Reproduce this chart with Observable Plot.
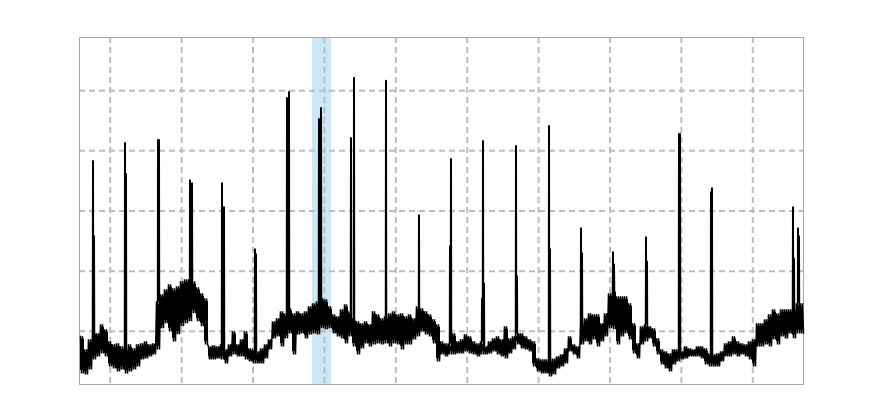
<!DOCTYPE html>
<html>
<head>
<meta charset="utf-8">
<script src="https://cdn.jsdelivr.net/npm/d3@7"></script>
<script src="https://cdn.jsdelivr.net/npm/@observablehq/plot@0.6"></script>
<style>
  html, body { margin: 0; padding: 0; background: #fff; }
  #chart { width: 880px; height: 420px; }
</style>
</head>
<body>
<div id="chart"></div>
<script>
// Sampling grid of the noisy baseline: first sample and spacing (x units)
const sampleStart = 1;
const sampleStep = 4;
// Upper and lower envelope of the baseline signal, one pair per sample window
const baseHigh = [
  -5,-18,-8,0,-2,7,2,-10,-13,-12,-15,-17,-13,-17,-13,-12,-10,-13,-12,30,
  37,42,47,43,45,50,52,52,50,44,38,33,-15,-14,-15,-13,-18,-13,0,-13,
  -8,0,-17,-18,-20,-17,-13,-8,10,13,20,18,23,18,20,18,20,25,28,30,
  33,32,25,17,15,22,27,20,13,10,8,10,7,20,17,13,15,18,20,17,
  18,15,17,13,25,23,20,17,12,7,-10,-12,-12,-2,-10,-8,-3,-5,-10,-12,
  -10,-15,-10,-7,-5,-8,5,-7,-5,-2,-2,-5,-8,-10,-27,-28,-28,-28,-27,-25,
  -23,-17,-5,-13,-15,8,13,18,17,17,8,18,38,42,35,35,35,28,8,-12,
  5,7,5,3,-7,-18,-20,-22,-18,-18,-20,-15,-17,-18,-15,-15,-17,-22,-23,-22,
  -20,-12,-10,-5,-10,-12,-13,-10,-8,8,8,12,17,22,18,22,22,22,23,28,
  28
];
const baseLow = [
  -42,-43,-38,-28,-25,-22,-25,-35,-37,-40,-38,-42,-40,-38,-35,-28,-27,-25,-23,-18,
  3,8,0,-10,-3,5,8,10,18,10,5,-13,-28,-28,-27,-28,-32,-25,-23,-25,
  -25,-28,-30,-32,-32,-32,-27,-18,-7,-5,-15,-7,-2,-23,-3,-2,-7,-3,-2,-3,
  3,2,3,-2,-5,-7,-12,-5,-15,-23,-17,-12,-15,-13,-12,-13,-12,-15,-12,-13,
  -18,-13,-13,-8,-5,0,-3,-5,-12,-30,-23,-25,-23,-23,-22,-22,-20,-22,-23,-25,
  -23,-23,-22,-20,-23,-25,-27,-22,-18,-13,-17,-18,-20,-35,-40,-42,-42,-45,-43,-37,
  -35,-32,-20,-23,-27,-13,-10,-13,-8,-15,-10,-5,3,2,-13,-5,-2,-8,-22,-27,
  -13,-10,-7,-15,-23,-33,-37,-40,-33,-30,-28,-27,-25,-25,-25,-27,-33,-35,-35,-35,
  -30,-25,-25,-23,-25,-23,-25,-28,-35,-15,-15,-13,-15,-8,-13,-5,-7,-2,-7,-2,
  -2
];
// Spikes: position and peak value
const spikeX   = [13,14,45,46,78,79,110,112,142,144,175,176,207,209,239,241,271,274,306,339,370,371,402,403,404,436,437,469,470,501,502,533,534,566,567,599,600,631,632,713,714,718,719];
const spikeTop = [170,95,188,157,191,191,151,148,148,124,82,77,233,239,212,223,193,253,250,116,85,172,33,190,48,185,55,205,82,103,78,79,67,94,70,197,197,139,143,124,73,103,95];
// Highlighted window
const highlightStart = 233;
const highlightEnd = 252;
// Grid positions
const gridX = [30.7, 102.1, 173.5, 244.9, 316.3, 387.7, 459.1, 530.5, 601.9, 673.3];
const gridY = [0, 60, 120, 180, 240];
const xDomain = [0, 724];
const yDomain = [-53, 293];

// Envelope band (one step per sample window)
const band = baseHigh.map((h, i) => ({x: sampleStart + sampleStep * i, hi: h - 3, lo: baseLow[i] + 3}));
band.push({x: sampleStart + sampleStep * baseHigh.length - 1, hi: band[band.length - 1].hi, lo: band[band.length - 1].lo});

// Build the series: each sample window zig-zags between its envelope values
const pts = [];
baseHigh.forEach((h, i) => {
  const s = sampleStart + sampleStep * i;
  const l = baseLow[i];
  pts.push({x: s, y: h}, {x: s + 1, y: l}, {x: s + 2, y: h}, {x: s + 3, y: l});
});
spikeX.forEach((sx, i) => {
  pts.push({x: sx + 0.25, y: spikeTop[i]}, {x: sx + 0.75, y: spikeTop[i]});
});
pts.sort((a, b) => a.x - b.x);

const chart = Plot.plot({
  width: 880,
  height: 420,
  marginLeft: 79,
  marginRight: 77,
  marginTop: 37,
  marginBottom: 36,
  x: {domain: xDomain, axis: null},
  y: {domain: yDomain, axis: null},
  style: {background: "#fff"},
  marks: [
    Plot.rect([{a: highlightStart, b: highlightEnd}], {x1: "a", x2: "b", fill: "#cce8f6"}),
    Plot.ruleX(gridX, {stroke: "#bdbdbd", strokeWidth: 2, strokeDasharray: "6,4"}),
    Plot.ruleY(gridY, {stroke: "#bdbdbd", strokeWidth: 2, strokeDasharray: "6,4"}),
    Plot.frame({stroke: "#a8a8a8", strokeWidth: 1}),
    Plot.areaY(band, {x: "x", y1: "lo", y2: "hi", fill: "#000", curve: "step-after"}),
    Plot.line(pts, {x: "x", y: "y", stroke: "#000", strokeWidth: 1.5, strokeLinejoin: "miter", strokeMiterlimit: 1})
  ]
});
document.getElementById("chart").appendChild(chart);
</script>
</body>
</html>
